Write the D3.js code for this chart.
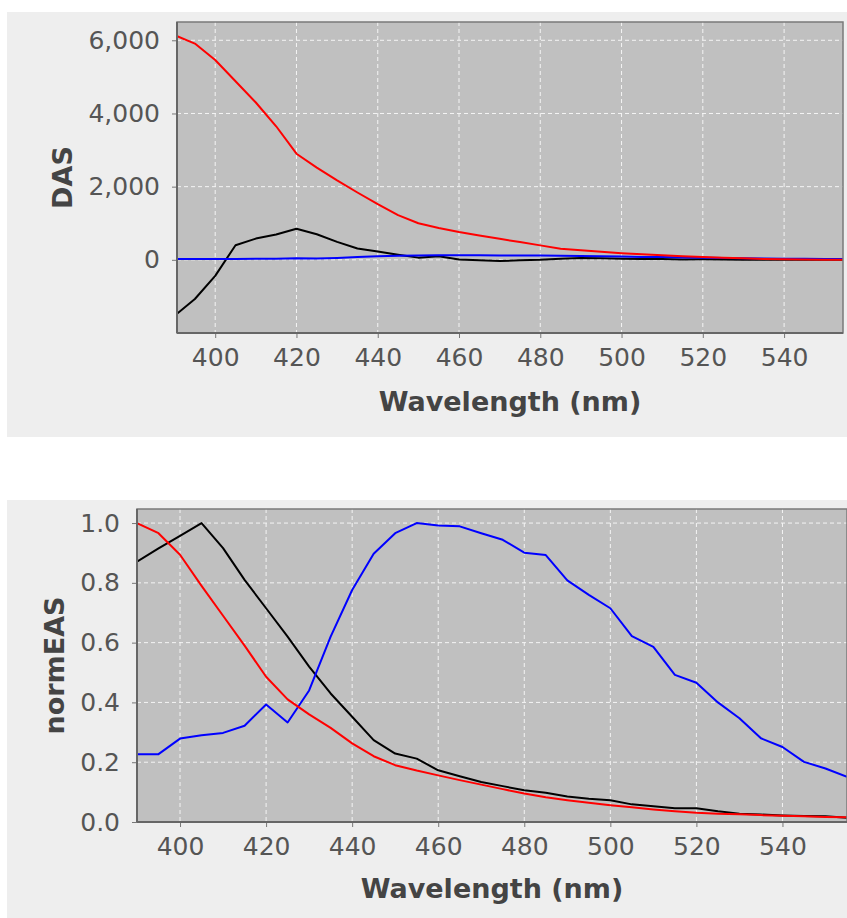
<!DOCTYPE html>
<html lang="en">
<head>
<meta charset="utf-8" />
<title>DAS / normEAS</title>
<script src="https://cdn.jsdelivr.net/npm/d3@7"></script>
<style>
  body { margin: 0; background: #ffffff; font-family: "DejaVu Sans", sans-serif; }
  .tick text { fill: #555555; font-size: 25px; font-family: "DejaVu Sans", sans-serif; }
  .tick line { stroke: #777777; }
  .domain { display: none; }
  .title { fill: #444444; font-size: 27px; font-weight: bold; font-family: "DejaVu Sans", sans-serif; }
</style>
</head>
<body>
<div id="vis"></div>
<script>
// wavelength grid (nm)
var wavelength = [390, 395, 400, 405, 410, 415, 420, 425, 430, 435, 440, 445, 450, 455, 460, 465, 470,
                  475, 480, 485, 490, 495, 500, 505, 510, 515, 520, 525, 530, 535, 540, 545, 550, 555];

// decay associated spectra
var dasRed   = [6140, 5910, 5460, 4880, 4300, 3650, 2900, 2520, 2170, 1840, 1520, 1220, 1000, 870, 760, 665, 575,
                485, 395, 305, 262, 222, 182, 152, 125, 100, 75, 55, 40, 25, 15, 8, 4, 0];
var dasBlack = [-1530, -1070, -440, 400, 580, 690, 850, 700, 490, 310, 230, 140, 60, 100, 10, -10, -30,
                -15, 0, 30, 50, 40, 30, 20, 20, 10, 15, 10, 5, 5, 0, 0, 0, 0];
var dasBlue  = [20, 20, 25, 25, 28, 32, 40, 35, 50, 75, 95, 110, 120, 125, 125, 125, 120,
                118, 115, 112, 105, 98, 92, 80, 75, 65, 60, 52, 45, 37, 32, 26, 23, 20];

// normalised evolution associated spectra
var normRed   = [1.0, 0.966, 0.894, 0.79, 0.69, 0.59, 0.486, 0.41, 0.36, 0.315, 0.263, 0.22, 0.19, 0.172, 0.156, 0.14, 0.125,
                 0.11, 0.095, 0.083, 0.073, 0.064, 0.056, 0.049, 0.042, 0.036, 0.031, 0.028, 0.026, 0.023, 0.021, 0.019, 0.017, 0.016];
var normBlack = [0.871, 0.915, 0.957, 1.0, 0.916, 0.81, 0.715, 0.62, 0.52, 0.43, 0.352, 0.274, 0.229, 0.212, 0.173, 0.153, 0.134,
                 0.12, 0.106, 0.098, 0.085, 0.078, 0.073, 0.059, 0.053, 0.046, 0.046, 0.036, 0.028, 0.025, 0.022, 0.02, 0.019, 0.014];
var normBlue  = [0.227, 0.227, 0.279, 0.29, 0.298, 0.322, 0.393, 0.333, 0.44, 0.62, 0.776, 0.897, 0.966, 1.0, 0.992, 0.989, 0.966,
                 0.944, 0.901, 0.893, 0.808, 0.76, 0.715, 0.622, 0.586, 0.492, 0.466, 0.4, 0.347, 0.28, 0.251, 0.201, 0.179, 0.151];

var xTicks = [400, 420, 440, 460, 480, 500, 520, 540];

var width = 847, height = 918;

var svg = d3.select("#vis").append("svg")
    .attr("width", width)
    .attr("height", height);

function panel(cfg) {
  var g = svg.append("g");

  // light grey chart background
  g.append("rect")
      .attr("x", cfg.bg[0]).attr("y", cfg.bg[1])
      .attr("width", cfg.bg[2]).attr("height", cfg.bg[3])
      .attr("fill", "#eeeeee");

  var x = d3.scaleLinear().domain(cfg.xDomain).range([cfg.left, cfg.right]);
  var y = d3.scaleLinear().domain(cfg.yDomain).range([cfg.bottom, cfg.top]);

  var clipId = "clip" + cfg.id;
  g.append("clipPath").attr("id", clipId)
    .append("rect")
      .attr("x", cfg.left).attr("y", cfg.top)
      .attr("width", cfg.right - cfg.left).attr("height", cfg.bottom - cfg.top);

  g.append("rect")
      .attr("x", cfg.left).attr("y", cfg.top)
      .attr("width", cfg.right - cfg.left).attr("height", cfg.bottom - cfg.top)
      .attr("fill", "#c0c0c0");

  // dashed white grid
  g.selectAll(".vgrid").data(xTicks).enter().append("line")
      .attr("x1", function(d) { return x(d); }).attr("x2", function(d) { return x(d); })
      .attr("y1", cfg.top).attr("y2", cfg.bottom)
      .attr("stroke", "#f4f4f4").attr("stroke-width", 1).attr("stroke-dasharray", "4,3");
  g.selectAll(".hgrid").data(cfg.yTicks).enter().append("line")
      .attr("x1", cfg.left).attr("x2", cfg.right)
      .attr("y1", function(d) { return y(d); }).attr("y2", function(d) { return y(d); })
      .attr("stroke", "#f4f4f4").attr("stroke-width", 1).attr("stroke-dasharray", "4,3");

  var line = d3.line()
      .x(function(d, i) { return x(wavelength[i]); })
      .y(function(d) { return y(d); });

  cfg.series.forEach(function(s) {
    g.append("path")
        .datum(s.values)
        .attr("clip-path", "url(#" + clipId + ")")
        .attr("fill", "none")
        .attr("stroke", s.color)
        .attr("stroke-width", 2)
        .attr("stroke-linejoin", "round")
        .attr("d", line);
  });

  // plot outline
  g.append("rect")
      .attr("x", cfg.left).attr("y", cfg.top)
      .attr("width", cfg.right - cfg.left).attr("height", cfg.bottom - cfg.top)
      .attr("fill", "none").attr("stroke", "#7a7a7a").attr("stroke-width", 1.5);

  g.append("g")
      .attr("transform", "translate(0," + cfg.bottom + ")")
      .call(d3.axisBottom(x).tickValues(xTicks).tickSize(5).tickPadding(10).tickFormat(d3.format("d")));

  g.append("g")
      .attr("transform", "translate(" + cfg.left + ",0)")
      .call(d3.axisLeft(y).tickValues(cfg.yTicks).tickSize(5).tickPadding(12).tickFormat(cfg.yFormat));

  // axis lines, a bit darker
  g.append("line")
      .attr("x1", cfg.left).attr("x2", cfg.right).attr("y1", cfg.bottom).attr("y2", cfg.bottom)
      .attr("stroke", "#666666").attr("stroke-width", 2);
  g.append("line")
      .attr("x1", cfg.left).attr("x2", cfg.left).attr("y1", cfg.top).attr("y2", cfg.bottom)
      .attr("stroke", "#666666").attr("stroke-width", 2);

  g.append("text")
      .attr("class", "title")
      .attr("x", (cfg.left + cfg.right) / 2)
      .attr("y", cfg.xTitleY)
      .attr("text-anchor", "middle")
      .text("Wavelength (nm)");

  g.append("text")
      .attr("class", "title")
      .attr("transform", "translate(" + cfg.yTitleX + "," + (cfg.top + cfg.bottom) / 2 + ") rotate(-90)")
      .attr("text-anchor", "middle")
      .text(cfg.yTitle);
}

panel({
  id: "das",
  bg: [7, 12, 840, 425],
  left: 177, right: 843, top: 22, bottom: 333,
  xDomain: [390.6, 554.5],
  yDomain: [-2000, 6500],
  yTicks: [0, 2000, 4000, 6000],
  yFormat: d3.format(","),
  yTitle: "DAS",
  yTitleX: 72,
  xTitleY: 411,
  series: [
    {values: dasBlack, color: "#000000"},
    {values: dasBlue, color: "#0000ff"},
    {values: dasRed, color: "#ff0000"}
  ]
});

panel({
  id: "norm",
  bg: [7, 500, 840, 418],
  left: 137, right: 847, top: 509, bottom: 822,
  xDomain: [390, 555],
  yDomain: [0, 1.047],
  yTicks: [0, 0.2, 0.4, 0.6, 0.8, 1.0],
  yFormat: d3.format(".1f"),
  yTitle: "normEAS",
  yTitleX: 64,
  xTitleY: 898,
  series: [
    {values: normBlack, color: "#000000"},
    {values: normBlue, color: "#0000ff"},
    {values: normRed, color: "#ff0000"}
  ]
});
</script>
</body>
</html>
